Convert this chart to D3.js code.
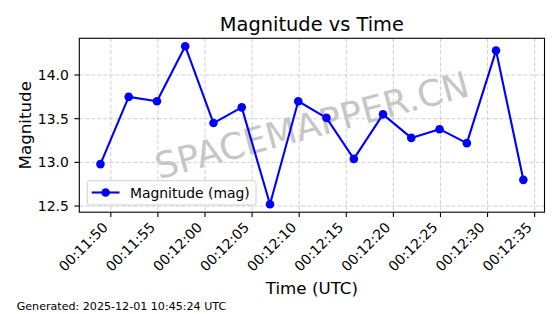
<!DOCTYPE html>
<html><head><meta charset="utf-8">
<script src="https://cdn.jsdelivr.net/npm/d3@7"></script>
<style>
html,body{margin:0;padding:0;background:#fff;}
svg{display:block;font-family:"DejaVu Sans",sans-serif;}
</style></head>
<body><svg id="c" width="560" height="314"></svg>
<script>
const times = ["00:11:48.9","00:11:51.9","00:11:54.9","00:11:57.9","00:12:00.9","00:12:03.9","00:12:06.9","00:12:09.9","00:12:12.9","00:12:15.8","00:12:18.9","00:12:21.9","00:12:24.9","00:12:27.8","00:12:30.9","00:12:33.8"];
const magnitudes = [12.98,13.75,13.70,14.33,13.45,13.63,12.52,13.70,13.51,13.04,13.55,13.28,13.38,13.22,14.28,12.80];
const yTicks = [12.5,13.0,13.5,14.0];
const titleText = "Magnitude vs Time";
const xLabel = "Time (UTC)";
const yLabel = "Magnitude";
const legendLabel = "Magnitude (mag)";
const watermark = "SPACEMAPPER.CN";
const footer = "Generated: 2025-12-01 10:45:24 UTC";

const data = times.map((t,i)=>({t:new Date("2025-12-01T"+t+"Z"), v:magnitudes[i]}));
const svg = d3.select("#c");
const L=79.3, R=544.5, T=38.3, B=212.2;

const tExt = d3.extent(data,d=>+d.t), tPad=(tExt[1]-tExt[0])*0.05;
const x = d3.scaleUtc().domain([new Date(tExt[0]-tPad), new Date(tExt[1]+tPad)]).range([L,R]);
const vExt = d3.extent(magnitudes), vPad=(vExt[1]-vExt[0])*0.05;
const y = d3.scaleLinear().domain([vExt[0]-vPad, vExt[1]+vPad]).range([B,T]);

const xTicks = x.ticks(d3.utcSecond.every(5));
const fmt = d3.utcFormat("%H:%M:%S");

// grid
const g = svg.append("g");
g.selectAll(".gx").data(xTicks).join("line")
  .attr("x1",d=>x(d)).attr("x2",d=>x(d)).attr("y1",T).attr("y2",B)
  .attr("stroke","#c4c4c4").attr("stroke-width",0.8).attr("stroke-dasharray","4,2");
g.selectAll(".gy").data(yTicks).join("line")
  .attr("x1",L).attr("x2",R).attr("y1",d=>y(d)).attr("y2",d=>y(d))
  .attr("stroke","#c4c4c4").attr("stroke-width",0.8).attr("stroke-dasharray","4,2");

// watermark
svg.append("text").attr("transform",`translate(${(L+R)/2},${(T+B)/2}) rotate(-15)`)
  .attr("text-anchor","middle").attr("dominant-baseline","central")
  .attr("font-size",36).attr("fill","#c6c6c6").text(watermark);

// line + markers
svg.append("path").datum(data)
  .attr("d",d3.line().x(d=>x(d.t)).y(d=>y(d.v)))
  .attr("fill","none").attr("stroke","#0000ff").attr("stroke-width",2.1).attr("stroke-linejoin","round");
svg.selectAll(".pt").data(data).join("circle")
  .attr("cx",d=>x(d.t)).attr("cy",d=>y(d.v)).attr("r",4.3).attr("fill","#0000ff");

// spines
svg.append("rect").attr("x",L).attr("y",T).attr("width",R-L).attr("height",B-T)
  .attr("fill","none").attr("stroke","#000").attr("stroke-width",1.1);

// x ticks
const xt = svg.append("g");
xt.selectAll("line").data(xTicks).join("line")
  .attr("x1",d=>x(d)).attr("x2",d=>x(d)).attr("y1",B).attr("y2",B+4.9)
  .attr("stroke","#000").attr("stroke-width",1.1);
xt.selectAll("text").data(xTicks).join("text")
  .attr("transform",d=>`translate(${x(d)-2},${B+16}) rotate(-45)`)
  .attr("text-anchor","end").attr("font-size",13.9).attr("fill","#000").text(d=>fmt(d));

// y ticks
const yt = svg.append("g");
yt.selectAll("line").data(yTicks).join("line")
  .attr("x1",L-4.9).attr("x2",L).attr("y1",d=>y(d)).attr("y2",d=>y(d))
  .attr("stroke","#000").attr("stroke-width",1.1);
yt.selectAll("text").data(yTicks).join("text")
  .attr("x",L-10.5).attr("y",d=>y(d)).attr("dy","0.36em")
  .attr("text-anchor","end").attr("font-size",13.9).attr("fill","#000").text(d=>d.toFixed(1));

// labels
svg.append("text").attr("x",(L+R)/2).attr("y",31).attr("text-anchor","middle")
  .attr("font-size",19.4).attr("fill","#000").text(titleText);
svg.append("text").attr("x",(L+R)/2).attr("y",294).attr("text-anchor","middle")
  .attr("font-size",16.7).attr("fill","#000").text(xLabel);
svg.append("text").attr("transform",`translate(31,${(T+B)/2}) rotate(-90)`).attr("text-anchor","middle")
  .attr("font-size",16.7).attr("fill","#000").text(yLabel);
svg.append("text").attr("x",16.7).attr("y",310).attr("font-size",11.1).attr("fill","#000").text(footer);

// legend
const lg = svg.append("g");
lg.append("rect").attr("x",87.3).attr("y",180.7).attr("width",168.7).attr("height",24.3).attr("rx",2.5)
  .attr("fill","#fff").attr("fill-opacity",0.8).attr("stroke","#d0d0d0").attr("stroke-width",1);
lg.append("line").attr("x1",91.7).attr("x2",119.5).attr("y1",192.5).attr("y2",192.5)
  .attr("stroke","#0000ff").attr("stroke-width",2.1);
lg.append("circle").attr("cx",105.6).attr("cy",192.5).attr("r",4.3).attr("fill","#0000ff");
lg.append("text").attr("x",130).attr("y",192.5).attr("dy","0.36em").attr("font-size",13.9).attr("fill","#000").text(legendLabel);
</script></body></html>
